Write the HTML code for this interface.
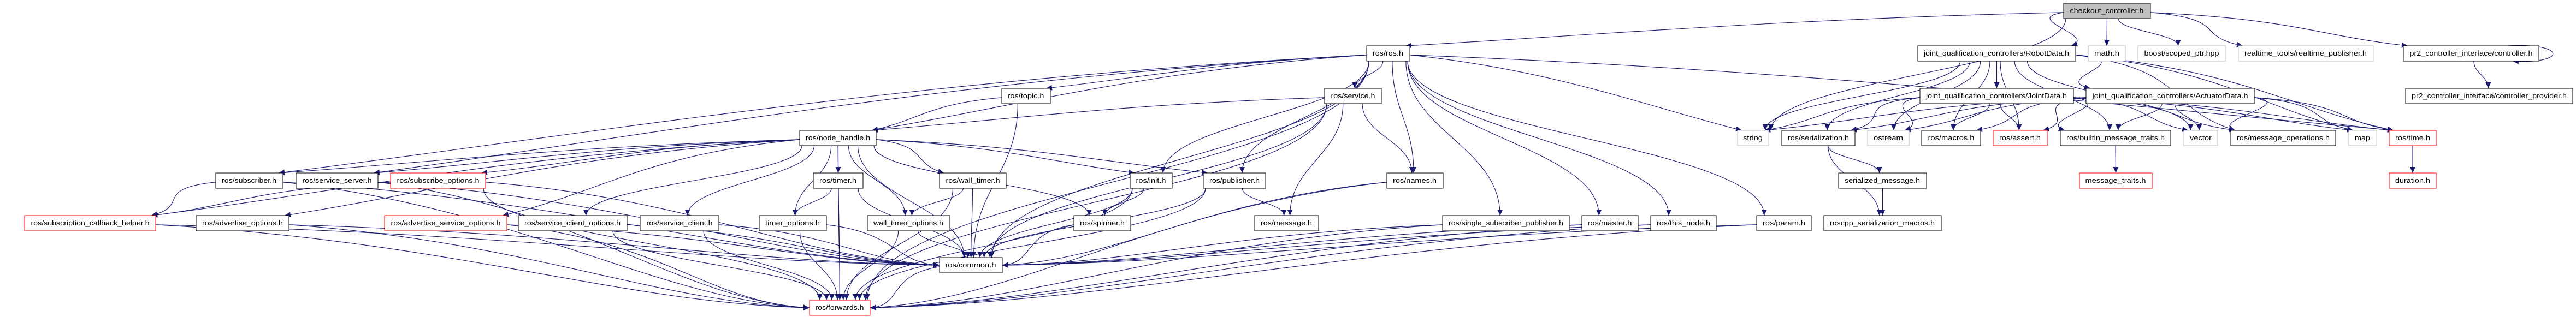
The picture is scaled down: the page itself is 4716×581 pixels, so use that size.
<!DOCTYPE html>
<html><head><meta charset="utf-8">
<style>
html,body{margin:0;padding:0;background:#fff;width:4716px;height:581px;overflow:hidden}
svg{display:block}
text{font-family:"Liberation Sans",sans-serif;font-size:13px;fill:#000}
</style></head>
<body>
<svg id="g" width="4716" height="581" viewBox="0 0 4716 581" xmlns="http://www.w3.org/2000/svg">
<defs>
<marker id="ah" markerUnits="userSpaceOnUse" markerWidth="12" markerHeight="10" refX="11" refY="5" orient="auto">
<path d="M0,0 L11,5 L0,10 z" fill="#191970"/>
</marker>
</defs>
<g id="edges" fill="none" stroke="#191970" stroke-width="1.1"></g>
<g id="nodes">
<rect x="3778" y="6" width="159" height="28" fill="#bfbfbf" stroke="#000"/><text x="3857" y="24" text-anchor="middle" textLength="135" lengthAdjust="spacingAndGlyphs">checkout_controller.h</text>
<rect x="2502" y="84" width="79" height="28" fill="#fff" stroke="#000"/><text x="2541" y="102" text-anchor="middle" textLength="56" lengthAdjust="spacingAndGlyphs">ros/ros.h</text>
<rect x="3511" y="84" width="289" height="28" fill="#fff" stroke="#000"/><text x="3655" y="102" text-anchor="middle" textLength="266" lengthAdjust="spacingAndGlyphs">joint_qualification_controllers/RobotData.h</text>
<rect x="3823" y="84" width="68" height="28" fill="#fff" stroke="#bfbfbf"/><text x="3857" y="102" text-anchor="middle" textLength="46" lengthAdjust="spacingAndGlyphs">math.h</text>
<rect x="3914" y="84" width="161" height="28" fill="#fff" stroke="#bfbfbf"/><text x="3994" y="102" text-anchor="middle" textLength="137" lengthAdjust="spacingAndGlyphs">boost/scoped_ptr.hpp</text>
<rect x="4098" y="84" width="247" height="28" fill="#fff" stroke="#bfbfbf"/><text x="4221" y="102" text-anchor="middle" textLength="224" lengthAdjust="spacingAndGlyphs">realtime_tools/realtime_publisher.h</text>
<rect x="4400" y="84" width="248" height="28" fill="#fff" stroke="#000"/><text x="4524" y="102" text-anchor="middle" textLength="225" lengthAdjust="spacingAndGlyphs">pr2_controller_interface/controller.h</text>
<rect x="1834" y="162" width="89" height="28" fill="#fff" stroke="#000"/><text x="1878" y="180" text-anchor="middle" textLength="67" lengthAdjust="spacingAndGlyphs">ros/topic.h</text>
<rect x="2425" y="162" width="104" height="28" fill="#fff" stroke="#000"/><text x="2477" y="180" text-anchor="middle" textLength="81" lengthAdjust="spacingAndGlyphs">ros/service.h</text>
<rect x="3515" y="162" width="281" height="28" fill="#fff" stroke="#000"/><text x="3655" y="180" text-anchor="middle" textLength="258" lengthAdjust="spacingAndGlyphs">joint_qualification_controllers/JointData.h</text>
<rect x="3819" y="162" width="308" height="28" fill="#fff" stroke="#000"/><text x="3973" y="180" text-anchor="middle" textLength="285" lengthAdjust="spacingAndGlyphs">joint_qualification_controllers/ActuatorData.h</text>
<rect x="4404" y="162" width="306" height="28" fill="#fff" stroke="#000"/><text x="4557" y="180" text-anchor="middle" textLength="284" lengthAdjust="spacingAndGlyphs">pr2_controller_interface/controller_provider.h</text>
<rect x="1464" y="239" width="140" height="28" fill="#fff" stroke="#000"/><text x="1534" y="257" text-anchor="middle" textLength="118" lengthAdjust="spacingAndGlyphs">ros/node_handle.h</text>
<rect x="3181" y="239" width="57" height="28" fill="#fff" stroke="#bfbfbf"/><text x="3209" y="257" text-anchor="middle" textLength="36" lengthAdjust="spacingAndGlyphs">string</text>
<rect x="3262" y="239" width="134" height="28" fill="#fff" stroke="#000"/><text x="3329" y="257" text-anchor="middle" textLength="112" lengthAdjust="spacingAndGlyphs">ros/serialization.h</text>
<rect x="3419" y="239" width="76" height="28" fill="#fff" stroke="#bfbfbf"/><text x="3457" y="257" text-anchor="middle" textLength="54" lengthAdjust="spacingAndGlyphs">ostream</text>
<rect x="3518" y="239" width="108" height="28" fill="#fff" stroke="#000"/><text x="3572" y="257" text-anchor="middle" textLength="85" lengthAdjust="spacingAndGlyphs">ros/macros.h</text>
<rect x="3649" y="239" width="99" height="28" fill="#fff" stroke="#ff0000"/><text x="3698" y="257" text-anchor="middle" textLength="76" lengthAdjust="spacingAndGlyphs">ros/assert.h</text>
<rect x="3772" y="239" width="202" height="28" fill="#fff" stroke="#000"/><text x="3873" y="257" text-anchor="middle" textLength="180" lengthAdjust="spacingAndGlyphs">ros/builtin_message_traits.h</text>
<rect x="3998" y="239" width="62" height="28" fill="#fff" stroke="#bfbfbf"/><text x="4029" y="257" text-anchor="middle" textLength="40" lengthAdjust="spacingAndGlyphs">vector</text>
<rect x="4084" y="239" width="192" height="28" fill="#fff" stroke="#000"/><text x="4180" y="257" text-anchor="middle" textLength="170" lengthAdjust="spacingAndGlyphs">ros/message_operations.h</text>
<rect x="4300" y="239" width="51" height="28" fill="#fff" stroke="#bfbfbf"/><text x="4325" y="257" text-anchor="middle" textLength="28" lengthAdjust="spacingAndGlyphs">map</text>
<rect x="4374" y="239" width="86" height="28" fill="#fff" stroke="#ff0000"/><text x="4417" y="257" text-anchor="middle" textLength="64" lengthAdjust="spacingAndGlyphs">ros/time.h</text>
<rect x="395" y="317" width="123" height="28" fill="#fff" stroke="#000"/><text x="456" y="335" text-anchor="middle" textLength="100" lengthAdjust="spacingAndGlyphs">ros/subscriber.h</text>
<rect x="542" y="317" width="150" height="28" fill="#fff" stroke="#000"/><text x="617" y="335" text-anchor="middle" textLength="127" lengthAdjust="spacingAndGlyphs">ros/service_server.h</text>
<rect x="715" y="317" width="174" height="28" fill="#fff" stroke="#ff0000"/><text x="802" y="335" text-anchor="middle" textLength="151" lengthAdjust="spacingAndGlyphs">ros/subscribe_options.h</text>
<rect x="1489" y="317" width="91" height="28" fill="#fff" stroke="#000"/><text x="1534" y="335" text-anchor="middle" textLength="68" lengthAdjust="spacingAndGlyphs">ros/timer.h</text>
<rect x="1720" y="317" width="122" height="28" fill="#fff" stroke="#000"/><text x="1781" y="335" text-anchor="middle" textLength="99" lengthAdjust="spacingAndGlyphs">ros/wall_timer.h</text>
<rect x="2069" y="317" width="77" height="28" fill="#fff" stroke="#000"/><text x="2107" y="335" text-anchor="middle" textLength="55" lengthAdjust="spacingAndGlyphs">ros/init.h</text>
<rect x="2203" y="317" width="114" height="28" fill="#fff" stroke="#000"/><text x="2260" y="335" text-anchor="middle" textLength="92" lengthAdjust="spacingAndGlyphs">ros/publisher.h</text>
<rect x="2539" y="317" width="103" height="28" fill="#fff" stroke="#000"/><text x="2590" y="335" text-anchor="middle" textLength="80" lengthAdjust="spacingAndGlyphs">ros/names.h</text>
<rect x="3366" y="317" width="161" height="28" fill="#fff" stroke="#000"/><text x="3446" y="335" text-anchor="middle" textLength="138" lengthAdjust="spacingAndGlyphs">serialized_message.h</text>
<rect x="3807" y="317" width="133" height="28" fill="#fff" stroke="#ff0000"/><text x="3873" y="335" text-anchor="middle" textLength="111" lengthAdjust="spacingAndGlyphs">message_traits.h</text>
<rect x="4374" y="317" width="86" height="28" fill="#fff" stroke="#ff0000"/><text x="4417" y="335" text-anchor="middle" textLength="64" lengthAdjust="spacingAndGlyphs">duration.h</text>
<rect x="45" y="395" width="240" height="28" fill="#fff" stroke="#ff0000"/><text x="165" y="413" text-anchor="middle" textLength="217" lengthAdjust="spacingAndGlyphs">ros/subscription_callback_helper.h</text>
<rect x="359" y="395" width="170" height="28" fill="#fff" stroke="#000"/><text x="444" y="413" text-anchor="middle" textLength="148" lengthAdjust="spacingAndGlyphs">ros/advertise_options.h</text>
<rect x="704" y="395" width="224" height="28" fill="#fff" stroke="#ff0000"/><text x="816" y="413" text-anchor="middle" textLength="201" lengthAdjust="spacingAndGlyphs">ros/advertise_service_options.h</text>
<rect x="949" y="395" width="199" height="28" fill="#fff" stroke="#000"/><text x="1048" y="413" text-anchor="middle" textLength="176" lengthAdjust="spacingAndGlyphs">ros/service_client_options.h</text>
<rect x="1172" y="395" width="144" height="28" fill="#fff" stroke="#000"/><text x="1244" y="413" text-anchor="middle" textLength="121" lengthAdjust="spacingAndGlyphs">ros/service_client.h</text>
<rect x="1390" y="395" width="123" height="28" fill="#fff" stroke="#000"/><text x="1451" y="413" text-anchor="middle" textLength="100" lengthAdjust="spacingAndGlyphs">timer_options.h</text>
<rect x="1588" y="395" width="151" height="28" fill="#fff" stroke="#000"/><text x="1663" y="413" text-anchor="middle" textLength="128" lengthAdjust="spacingAndGlyphs">wall_timer_options.h</text>
<rect x="1966" y="395" width="104" height="28" fill="#fff" stroke="#000"/><text x="2018" y="413" text-anchor="middle" textLength="82" lengthAdjust="spacingAndGlyphs">ros/spinner.h</text>
<rect x="2297" y="395" width="117" height="28" fill="#fff" stroke="#000"/><text x="2355" y="413" text-anchor="middle" textLength="94" lengthAdjust="spacingAndGlyphs">ros/message.h</text>
<rect x="2641" y="395" width="232" height="28" fill="#fff" stroke="#000"/><text x="2757" y="413" text-anchor="middle" textLength="210" lengthAdjust="spacingAndGlyphs">ros/single_subscriber_publisher.h</text>
<rect x="2896" y="395" width="103" height="28" fill="#fff" stroke="#000"/><text x="2947" y="413" text-anchor="middle" textLength="81" lengthAdjust="spacingAndGlyphs">ros/master.h</text>
<rect x="3022" y="395" width="120" height="28" fill="#fff" stroke="#000"/><text x="3082" y="413" text-anchor="middle" textLength="98" lengthAdjust="spacingAndGlyphs">ros/this_node.h</text>
<rect x="3216" y="395" width="100" height="28" fill="#fff" stroke="#000"/><text x="3266" y="413" text-anchor="middle" textLength="78" lengthAdjust="spacingAndGlyphs">ros/param.h</text>
<rect x="3339" y="395" width="215" height="28" fill="#fff" stroke="#000"/><text x="3446" y="413" text-anchor="middle" textLength="192" lengthAdjust="spacingAndGlyphs">roscpp_serialization_macros.h</text>
<rect x="1720" y="472" width="115" height="28" fill="#fff" stroke="#000"/><text x="1777" y="490" text-anchor="middle" textLength="93" lengthAdjust="spacingAndGlyphs">ros/common.h</text>
<rect x="1482" y="550" width="111" height="28" fill="#fff" stroke="#ff0000"/><text x="1537" y="568" text-anchor="middle" textLength="89" lengthAdjust="spacingAndGlyphs">ros/forwards.h</text>
</g>
</svg>
<script>
var N={
cc:[3778,6,159],ros:[2502,84,79],rd:[3511,84,289],math:[3823,84,68],boost:[3914,84,161],rt:[4098,84,247],ctl:[4400,84,248],
topic:[1834,162,89],svc:[2425,162,104],jd:[3515,162,281],ad:[3819,162,308],prov:[4404,162,306],
nh:[1464,239,140],str:[3181,239,57],ser:[3262,239,134],ost:[3419,239,76],mac:[3518,239,108],ast:[3649,239,99],bmt:[3772,239,202],vec:[3998,239,62],mop:[4084,239,192],map:[4300,239,51],time:[4374,239,86],
sub:[395,317,123],ss:[542,317,150],so:[715,317,174],tmr:[1489,317,91],wt:[1720,317,122],init:[2069,317,77],pub:[2203,317,114],names:[2539,317,103],sm:[3366,317,161],mt:[3807,317,133],dur:[4374,317,86],
sch:[45,395,240],ao:[359,395,170],aso:[704,395,224],sco:[949,395,199],sc:[1172,395,144],to:[1390,395,123],wto:[1588,395,151],spin:[1966,395,104],msg:[2297,395,117],ssp:[2641,395,232],mas:[2896,395,103],tn:[3022,395,120],par:[3216,395,100],rsm:[3339,395,215],
com:[1720,472,115],fwd:[1482,550,111]};
var E={
cc:['ros','rd','math','boost','rt','ctl','str'],ctl:['prov'],
rd:['jd','ad','str','ser','ost','mac','ast','bmt','vec','mop','map','time'],
jd:['str','ser','ost','mac','ast','bmt','vec','mop','map','time'],
ad:['str','ser','ost','mac','ast','bmt','vec','mop','map','time'],
ser:['sm','rsm'],sm:['rsm'],bmt:['mt'],time:['dur'],
ros:['sub','ss','topic','nh','svc','init','pub','names','ssp','mas','tn','par','com','fwd','str','time'],
topic:['nh','com'],svc:['nh','msg','names','com','fwd'],
nh:['sub','ss','so','ao','aso','sco','sc','tmr','to','wt','wto','spin','init','pub','com','fwd','sch'],
sub:['sch','com','fwd'],ss:['com','fwd'],so:['sch','com','fwd'],ao:['com','fwd'],aso:['com','fwd'],sco:['com','fwd'],sc:['com','fwd'],
tmr:['to','com','fwd'],to:['com','fwd'],wt:['wto','com','fwd'],wto:['com','fwd'],init:['spin','com','fwd'],spin:['com'],
pub:['msg','com','fwd'],names:['com','fwd'],ssp:['com','fwd'],mas:['com','fwd'],tn:['com','fwd'],par:['com','fwd'],com:['fwd'],sch:['com','fwd']};
var g=document.getElementById('edges'),H=28,out='';
for(var s in E){E[s].forEach(function(t){
 var a=N[s],b=N[t];
 var acx=a[0]+a[2]/2,bcx=b[0]+b[2]/2;
 var sy=a[1]+H,ty=b[1];
 var dx=bcx-acx,dy=ty-sy;
 var sx=acx+Math.max(-a[2]/2+4,Math.min(a[2]/2-4,dx*0.15));
 var tx,tyy,c1,c2;
 if(Math.abs(dx)>4*Math.max(dy,10)){
   var isBottomRow=(b[1]>=470);
   if(isBottomRow){
     tx=dx>0?b[0]:b[0]+b[2]; tyy=b[1]+H/2;
   } else {
     tx=dx>0?b[0]+8:b[0]+b[2]-8; tyy=b[1];
   }
   sx=dx>0?a[0]+a[2]:a[0]; sy=a[1]+H*0.6;
   c1=[sx+dx*0.4,sy+(tyy-sy)*0.2];c2=[tx-dx*0.25,tyy-(isBottomRow?(tyy-sy)*0.05:Math.max(10,(tyy-sy)*0.3))];
 } else {
   tx=bcx-dx*0.05;tyy=ty;
   c1=[sx,sy+dy*0.45];c2=[tx,tyy-dy*0.45];
 }
 out+='<path d="M'+sx+','+sy+' C'+c1[0]+','+c1[1]+' '+c2[0]+','+c2[1]+' '+tx+','+tyy+'" marker-end="url(#ah)"/>';
});}
out+='<path d="M4590,84 C4700,78 4700,118 4600,112" marker-end="url(#ah)"/>';
g.innerHTML=out;
</script>
</body></html>
